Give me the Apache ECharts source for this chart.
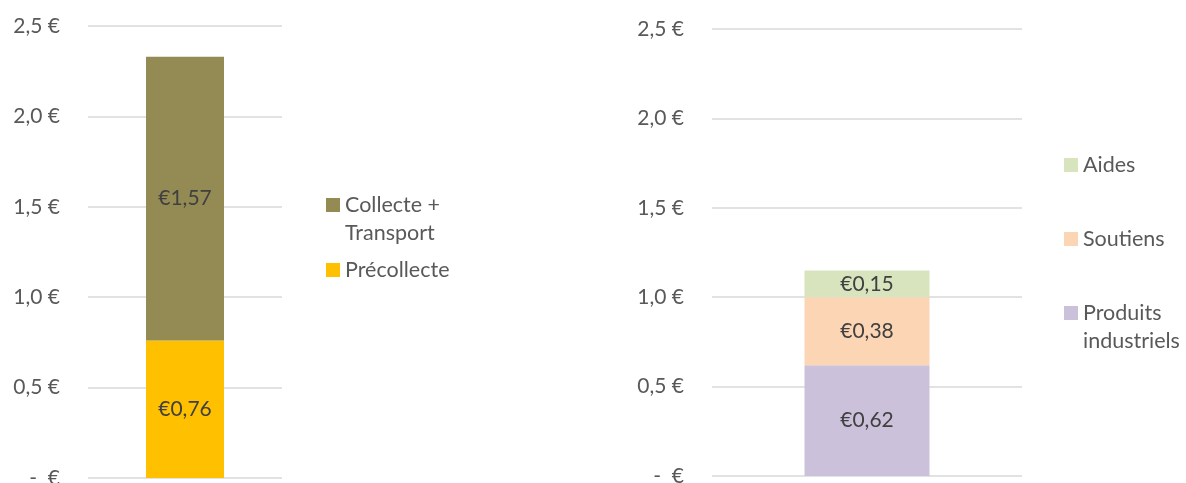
<!DOCTYPE html>
<html>
<head>
<meta charset="utf-8">
<script src="https://cdn.jsdelivr.net/npm/echarts@6/dist/echarts.min.js"></script>
<style>
  html, body { margin: 0; padding: 0; background: #fff; }
  #chart { width: 1186px; height: 483px; }
</style>
</head>
<body>
<div id="chart"></div>
<script>
// left panel : coûts
const costCategory = ['Coûts']
const preCollecte = [0.76]
const collecteTransport = [1.57]

// right panel : recettes
const incomeCategory = ['Recettes']
const produitsIndustriels = [0.62]
const soutiens = [0.38]
const aides = [0.15]

const yTicks = [0, 0.5, 1.0, 1.5, 2.0, 2.5]

const FONT = 'Lato'
const AXIS_GREY = '#595959'
const LABEL_DARK = '#404040'

const chart = echarts.init(document.getElementById('chart'))

function yLabel(v) {
  if (v === 0) return '-  €'
  return v.toFixed(1).replace('.', ',') + ' €'
}

function euro(p) {
  return '€' + p.value.toFixed(2).replace('.', ',')
}

function yAxis(gridIndex) {
  return {
    type: 'value',
    gridIndex,
    min: yTicks[0],
    max: yTicks[yTicks.length - 1],
    interval: 0.5,
    axisLine: { show: false },
    axisTick: { show: false },
    axisLabel: {
      formatter: yLabel,
      color: AXIS_GREY,
      fontFamily: FONT,
      fontSize: 21,
      margin: 28,
    },
    splitLine: { lineStyle: { color: '#D9D9D9', width: 1.5 } },
  }
}

function xAxis(gridIndex, data) {
  return {
    type: 'category',
    gridIndex,
    data,
    axisLine: { show: false },
    axisTick: { show: false },
    axisLabel: { show: false },
  }
}

function bar(name, data, color, axis, width) {
  return {
    name,
    type: 'bar',
    stack: 'total' + axis,
    xAxisIndex: axis,
    yAxisIndex: axis,
    barWidth: width,
    data,
    itemStyle: { color },
    label: {
      show: true,
      position: 'inside',
      formatter: euro,
      color: LABEL_DARK,
      fontFamily: FONT,
      fontSize: 21,
    },
  }
}

// one legend per item; two-line names get an empty first line so the
// icon sits next to the first written line, like in Excel
function legendItem(name, left, top) {
  return {
    data: [name],
    orient: 'vertical',
    left,
    top,
    icon: 'rect',
    itemWidth: 14,
    itemHeight: 14,
    padding: 0,
    selectedMode: false,
    formatter: (n) => n === 'Collecte + Transport' ? '\nCollecte +\nTransport'
      : n === 'Produits industriels' ? '\nProduits\nindustriels' : n,
    textStyle: {
      color: AXIS_GREY,
      fontFamily: FONT,
      fontSize: 21.5,
      lineHeight: 28,
    },
  }
}

const option = {
  animation: false,
  grid: [
    { left: 88, right: 904, top: 26, bottom: 5, outerBoundsMode: 'none' },
    { left: 712, right: 164, top: 29, bottom: 7, outerBoundsMode: 'none' },
  ],
  xAxis: [xAxis(0, costCategory), xAxis(1, incomeCategory)],
  yAxis: [yAxis(0), yAxis(1)],
  legend: [
    legendItem('Collecte + Transport', 326, 163),
    legendItem('Précollecte', 326, 256),
    legendItem('Aides', 1064, 151),
    legendItem('Soutiens', 1064, 225),
    legendItem('Produits industriels', 1064, 271),
  ],
  series: [
    bar('Précollecte', preCollecte, '#FFC000', 0, 78),
    bar('Collecte + Transport', collecteTransport, '#948A54', 0, 78),
    bar('Produits industriels', produitsIndustriels, '#CCC1DA', 1, 125),
    bar('Soutiens', soutiens, '#FCD5B5', 1, 125),
    bar('Aides', aides, '#D7E4BD', 1, 125),
  ],
}

chart.setOption(option)
</script>
</body>
</html>
